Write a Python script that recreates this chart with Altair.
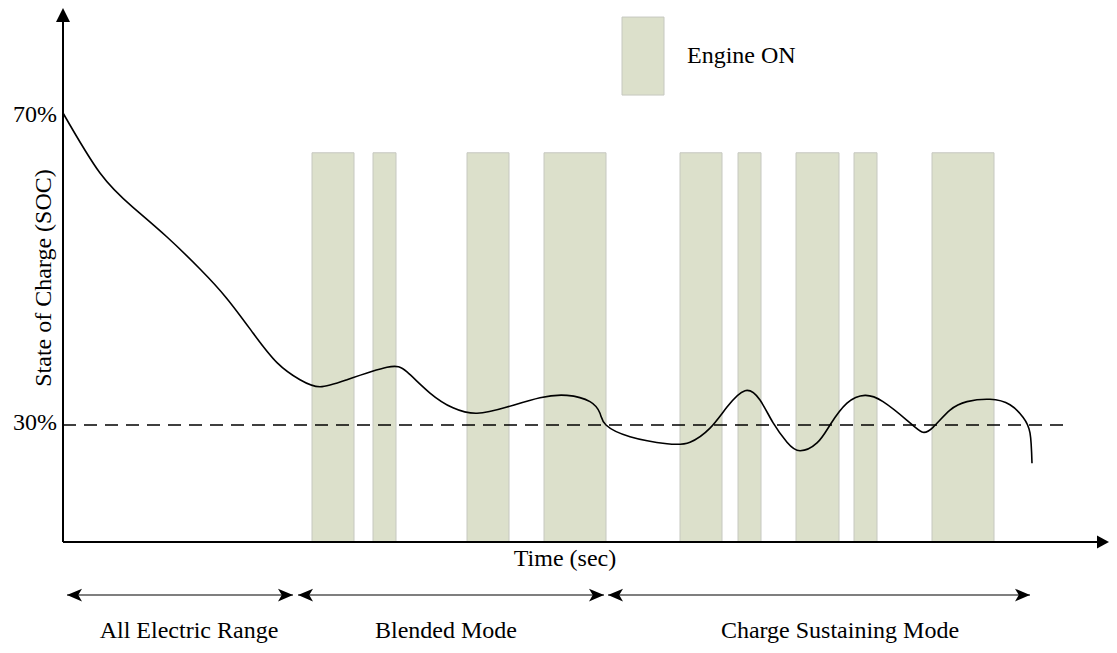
import altair as alt
import pandas as pd

# ---------------- data (time in arbitrary units, SOC in %) ----------------
curve_t = [0.0, 3.7, 7.0, 10.4, 13.7, 16.4, 19.0, 21.4, 23.7, 25.7, 28.4, 32.4,
           34.4, 36.7, 39.0, 41.4, 44.4, 47.7, 50.4, 52.7, 53.7, 54.3, 56.7, 60.4,
           62.7, 64.7, 66.4, 68.2, 69.7, 71.0, 72.4, 73.7, 75.4, 76.7, 78.4, 80.2,
           82.0, 84.4, 85.9, 87.0, 88.7, 90.4, 92.7, 94.7, 96.0, 96.7, 96.9]
curve_soc = [70.0, 62.3, 57.9, 54.1, 50.0, 46.2, 41.8, 38.0, 35.8, 34.9, 35.8, 37.4,
             36.8, 34.1, 32.2, 31.5, 32.3, 33.5, 33.8, 33.0, 31.5, 30.0, 28.5, 27.6,
             27.8, 29.6, 32.3, 34.4, 33.2, 30.3, 27.8, 26.7, 27.7, 30.0, 32.8, 33.8,
             33.0, 30.6, 29.1, 29.7, 31.9, 33.0, 33.3, 32.6, 31.0, 29.0, 25.1]

engine_on_start = [24.9, 31.0, 40.4, 48.1, 61.7, 67.5, 73.3, 79.1, 86.9]
engine_on_end = [29.1, 33.3, 44.6, 54.3, 65.9, 69.8, 77.6, 81.4, 93.1]
engine_bar_top = 64.9

phase_names = ["All Electric Range", "Blended Mode", "Charge Sustaining Mode"]
phase_start = [0.4, 23.5, 54.5]
phase_end = [23.0, 54.1, 96.7]
phase_label_t = [12.6, 38.3, 77.7]

soc_ticks = [70, 30]
soc_tick_labels = ["70%", "30%"]
target_soc = 30
threshold_end = 100.8

legend_label = "Engine ON"

# ---------------- scales ----------------
T_DOM = [0, 104.6]
S_DOM = [15, 83.4615]
FONT = "Liberation Serif"


def X(field):
    return alt.X(f"{field}:Q", scale=alt.Scale(domain=T_DOM, nice=False, zero=False), axis=None)


def X2(field):
    return alt.X2(f"{field}:Q")


def Y(field):
    return alt.Y(f"{field}:Q", scale=alt.Scale(domain=S_DOM, nice=False, zero=False), axis=None)


def Y2(field):
    return alt.Y2(f"{field}:Q")


BAR_FILL = "#DCE0CB"
BAR_STROKE = "#C6C8C0"

bars_df = pd.DataFrame({"t0": engine_on_start, "t1": engine_on_end,
                        "s0": [15] * len(engine_on_start),
                        "s1": [engine_bar_top] * len(engine_on_start)})
bars = alt.Chart(bars_df).mark_rect(fill=BAR_FILL, stroke=BAR_STROKE, strokeWidth=1).encode(
    x=X("t0"), x2=X2("t1"), y=Y("s0"), y2=Y2("s1"))

legend_df = pd.DataFrame({"t0": [55.9], "t1": [60.1], "s0": [72.3], "s1": [82.3],
                          "lt": [62.4], "ls": [76.4], "label": [legend_label]})
legend_rect = alt.Chart(legend_df).mark_rect(fill=BAR_FILL, stroke=BAR_STROKE, strokeWidth=1).encode(
    x=X("t0"), x2=X2("t1"), y=Y("s0"), y2=Y2("s1"))
legend_text = alt.Chart(legend_df).mark_text(font=FONT, fontSize=24, align="left",
                                             baseline="alphabetic", color="black").encode(
    x=X("lt"), y=Y("ls"), text="label:N")

thr_df = pd.DataFrame({"t0": [0], "t1": [threshold_end], "s": [target_soc]})
threshold = alt.Chart(thr_df).mark_rule(color="black", strokeWidth=1.5, strokeDash=[13, 8]).encode(
    x=X("t0"), x2=X2("t1"), y=Y("s"))

curve_df = pd.DataFrame({"t": curve_t, "soc": curve_soc})
curve = alt.Chart(curve_df).mark_line(color="black", strokeWidth=1.6, interpolate="natural").encode(
    x=X("t"), y=Y("soc"))

axes_df = pd.DataFrame({"t0": [0, 0], "t1": [0, 103.5], "s0": [15, 15], "s1": [82.0, 15]})
axes_lines = alt.Chart(axes_df).mark_rule(color="black", strokeWidth=2).encode(
    x=X("t0"), x2=X2("t1"), y=Y("s0"), y2=Y2("s1"))

up_df = pd.DataFrame({"t": [0], "s": [82.564]})
up_arrow = alt.Chart(up_df).mark_point(shape="M 0 -1 L 1 1 L -1 1 Z", size=196, filled=True,
                                       color="black", opacity=1, strokeWidth=0).encode(
    x=X("t"), y=Y("s"))
right_df = pd.DataFrame({"t": [104.0], "s": [15]})
right_arrow = alt.Chart(right_df).mark_point(shape="M 1 0 L -1 -1.1 L -1 1.1 Z", size=144, filled=True,
                                             color="black", opacity=1, strokeWidth=0).encode(
    x=X("t"), y=Y("s"))

# y tick labels
ytl_df = pd.DataFrame({"t": [-0.6, -0.6], "s": [68.85, 29.36], "label": soc_tick_labels})
ytl = alt.Chart(ytl_df).mark_text(font=FONT, fontSize=24, align="right", baseline="alphabetic",
                                  color="black").encode(x=X("t"), y=Y("s"), text="label:N")

titles_df = pd.DataFrame({"t": [50.2], "s": [11.92], "label": ["Time (sec)"]})
x_title = alt.Chart(titles_df).mark_text(font=FONT, fontSize=24, align="center", baseline="alphabetic",
                                         color="black").encode(x=X("t"), y=Y("s"), text="label:N")
ytitle_df = pd.DataFrame({"t": [-1.2], "s": [48.85], "label": ["State of Charge (SOC)"]})
y_title = alt.Chart(ytitle_df).mark_text(font=FONT, fontSize=24, align="center", baseline="alphabetic",
                                         angle=270, color="black").encode(x=X("t"), y=Y("s"), text="label:N")

# phase arrows
ARROW_S = 8.205
HEAD = 0.75
ph_df = pd.DataFrame({"name": phase_names, "t0": phase_start, "t1": phase_end,
                      "s": [ARROW_S] * 3, "lt": phase_label_t, "ls": [2.7] * 3})
ph_df["h0"] = ph_df["t0"] + HEAD
ph_df["h1"] = ph_df["t1"] - HEAD
phase_lines = alt.Chart(ph_df).mark_rule(color="#555555", strokeWidth=1.5).encode(
    x=X("t0"), x2=X2("t1"), y=Y("s"))
phase_left = alt.Chart(ph_df).mark_point(shape="M -1 0 L 1 -0.85 L 0.5 0 L 1 0.85 Z", size=225,
                                         filled=True, color="black", opacity=1, strokeWidth=0).encode(
    x=X("h0"), y=Y("s"))
phase_right = alt.Chart(ph_df).mark_point(shape="M 1 0 L -1 -0.85 L -0.5 0 L -1 0.85 Z", size=225,
                                          filled=True, color="black", opacity=1, strokeWidth=0).encode(
    x=X("h1"), y=Y("s"))
phase_text = alt.Chart(ph_df).mark_text(font=FONT, fontSize=24, align="center", baseline="alphabetic",
                                        color="black").encode(x=X("lt"), y=Y("ls"), text="name:N")

chart = alt.layer(
    bars, legend_rect, legend_text, threshold, curve, axes_lines, up_arrow, right_arrow,
    ytl, x_title, y_title, phase_lines, phase_left, phase_right, phase_text
).properties(
    width=1046, height=534,
    autosize=alt.AutoSizeParams(type="none"),
    padding={"left": 55, "top": 0, "right": 0, "bottom": 103},
).configure_view(strokeWidth=0)

chart.save("out.html", embed_options={"renderer": "svg", "actions": False})
